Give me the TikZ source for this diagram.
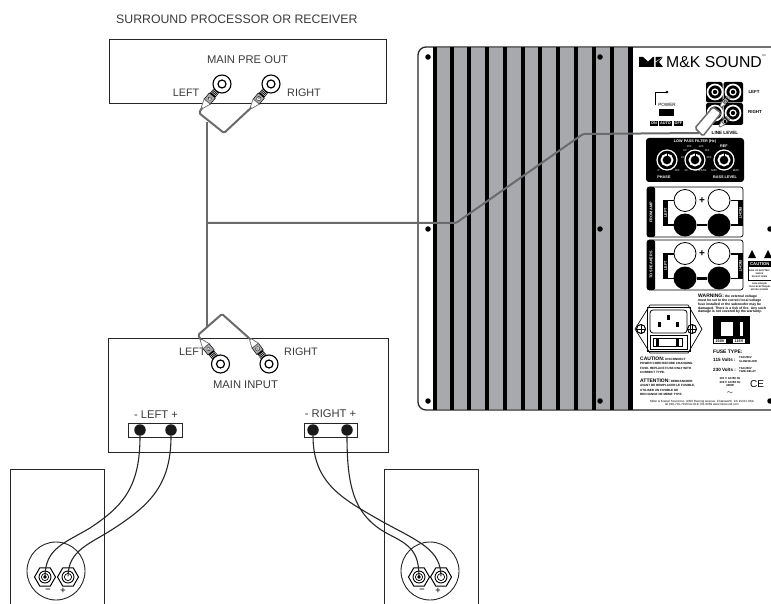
\documentclass[tikz,border=0pt]{standalone}
\usepackage{fontspec}
\setmainfont{Liberation Sans}
\usetikzlibrary{shapes.geometric}
\definecolor{labelgray}{HTML}{3A3A3C}
\definecolor{wiregray}{HTML}{6A6B6D}
\definecolor{fingray}{HTML}{A7A9AC}
\tikzset{
	box/.style={draw=black!85, line width=1pt, minimum width=#1, anchor=north west, inner sep=0, outer sep=0},
	lbl/.style={font=\fontsize{11.2}{12}\selectfont, text=labelgray, inner sep=0},
	tiny/.style={font=\fontsize{3.8}{4.2}\selectfont\bfseries, inner sep=0, align=left},
	inv/.style={tiny, text=white},
	signal/.style={draw=wiregray, line width=2pt, line join=round, rounded corners=1.5pt},
	spkwire/.style={draw=black!85, line width=1.1pt},
	jack/.style={circle, draw=black, line width=1.1pt, fill=white, minimum size=18pt, inner sep=0,
		path picture={\draw[line width=1.2pt] (path picture bounding box.center) circle (4);}},
	post/.style={circle, fill=black!90, minimum size=11.5pt, inner sep=0},
	nut/.style={regular polygon, regular polygon sides=6, draw=black, line width=1pt, minimum size=21pt, inner sep=0, fill=white},
	knob/.style={circle, draw=white, line width=1.2pt, fill=black, minimum size=20pt, inner sep=0,
		path picture={\draw[white, line width=1.9pt] (path picture bounding box.center) circle (5.5);
			\draw[black, line width=1pt] (path picture bounding box.center) ++(0,-3.5) -- ++(0,-3.5);}},
	panelhole/.style={circle, fill=black, minimum size=5.5pt, inner sep=0},
	plus/.style={circle, draw=black, line width=.8pt, fill=white, minimum size=22pt, inner sep=0},
	minus/.style={circle, fill=black, minimum size=23pt, inner sep=0},
	small/.style={tiny, font=\fontsize{3.05}{4.2}\selectfont\bfseries},
	head/.style={tiny, font=\fontsize{5}{5}\selectfont\bfseries}
}
\newcommand{\rcaplug}[5][1]{%
	\begin{scope}[shift={(#3)},rotate=#4,scale=#1]
		\fill[black] (9,-3.5) rectangle (15,3.5);
		\foreach \i in {10,11.5,13} \draw[white, line width=.4pt] (\i,-3.5) -- (\i,3.5);
		\filldraw[draw=black, fill=fingray, line width=.5pt] (15,-4) rectangle (23,4);
		\node[circle, draw=black, line width=.3pt, fill=white, inner sep=.3pt, font=\fontsize{3.5}{4}\selectfont, transform shape] at (19,0) {#5};
		\filldraw[draw=wiregray, fill=white, line width=.7pt] (23,-4) -- (31,-1) -- (31,1) -- (23,4) -- cycle;
		\coordinate (#2) at (31,0);
	\end{scope}}
\begin{document}
\begin{tikzpicture}[x=1pt, y=-1pt]
	\useasboundingbox (0,0) rectangle (771,604);
	\node[lbl, anchor=west, font=\fontsize{12.3}{13}\selectfont] (title) at (116,19) {SURROUND PROCESSOR OR RECEIVER};

	% processor
	\node[box=277pt, minimum height=64pt] (preout) at (109.5,39.5) {};
	\node[lbl] (prelabel) at (247.5,60) {MAIN PRE OUT};
	\node[lbl, font=\fontsize{10.8}{12}\selectfont] (preleft) at (186,93) {LEFT};
	\node[lbl, font=\fontsize{10.8}{12}\selectfont] (preright) at (304,93) {RIGHT};
	\node[jack] (jackA) at (222,84) {};
	\node[jack] (jackB) at (271,84) {};
	\rcaplug{tipA}{jackA.center}{230}{L}
	\rcaplug{tipB}{jackB.center}{230}{R}

	% subwoofer amp
	\node[box=280pt, minimum height=114pt] (amp) at (108.5,338.5) {};
	\node[lbl, anchor=west, font=\fontsize{10.8}{12}\selectfont] (ampleft) at (179,352) {LEFT};
	\node[lbl, font=\fontsize{10.8}{12}\selectfont] (ampright) at (301,352) {RIGHT};
	\node[lbl] (amplabel) at (245.5,385) {MAIN INPUT};
	\node[jack] (jackC) at (220.5,364) {};
	\node[jack] (jackD) at (269,364) {};
	\rcaplug{tipC}{jackC.center}{129}{L}
	\rcaplug{tipD}{jackD.center}{127}{R}
	\node[lbl] (minleft) at (156,415) {- LEFT +};
	\node[lbl] (minright) at (330.5,414) {- RIGHT +};
	\node[box=54pt, minimum height=14pt, fill=white] (blockL) at (128,423) {};
	\node[box=53pt, minimum height=14pt, fill=white] (blockR) at (304,423) {};
	\node[post] (postA) at (140,430) {};
	\node[post] (postB) at (171,430) {};
	\node[post] (postC) at (313,430) {};
	\node[post] (postD) at (347,430) {};

	% speakers
	\draw[black!85, line width=1pt] (10.5,604) |- (104,469) -- (104,604);
	\draw[black!85, line width=1pt] (384,604) |- (478,469) -- (478,604);
	\node[circle, draw=black!85, line width=.9pt, minimum size=58pt, inner sep=0] (coneL) at (56,571) {};
	\node[circle, draw=black!85, line width=.9pt, minimum size=58pt, inner sep=0] (coneR) at (430,571) {};
	\foreach \name/\x in {nutA/45,nutB/68,nutC/419,nutD/441} {
		\node[nut] (\name) at (\x,577) {};
		\draw[line width=.9pt] (\name.center) circle (6);
		\draw[line width=.7pt] (\name.center) circle (3.6);
	}
	\foreach \x in {48,422} \node[inner sep=0, font=\bfseries\small, text=labelgray] at (\x,591) {−};
	\foreach \x in {63,438} \node[inner sep=0, font=\bfseries\small, text=labelgray] at (\x,591) {+};
	\draw[spkwire] (postA) .. controls (140,485) and (125,505) .. (90,528) .. controls (65,543) and (45,548) .. (nutA.center);
	\draw[spkwire] (postB) .. controls (171,485) and (150,505) .. (113,529) .. controls (90,544) and (68,550) .. (nutB.center);
	\draw[spkwire] (postC) .. controls (313,485) and (345,500) .. (383,522) .. controls (420,542) and (441,550) .. (nutD.center);
	\draw[spkwire] (postD) .. controls (347,490) and (355,517) .. (390,535) .. controls (410,545) and (419,552) .. (nutC.center);
	\foreach \name in {nutB,nutD} \fill[white] (\name.center) circle (1.2);
	\fill (nutA.center) circle (1.8);
	\fill (nutC.center) circle (1.8);

	% rear panel
	\begin{scope}
		\clip (0,0) rectangle (771,604);
		\draw[black!85, line width=1.3pt, rounded corners=8pt] (800,410) -- (418,410) -- (418,47) -- (800,47);
		\fill[fingray] (433,47.6) rectangle (633,409.4);
		\foreach \x in {433,450,467,485,503,521,538,556,574,592,610} \fill (\x,47) rectangle ++(4.4,363);
		\fill (628,47) rectangle (633,410);
		\foreach \p in {(428,57),(600,57),(428,229),(600,229),(428,401),(600,401),(770,401),(770,229)} \node[panelhole] at \p {};
		% logo
		\fill (639,57) -- (643,57) -- (648,61.5) -- (653,57) -- (654,57) -- (654,67) -- (639,67) -- cycle;
		\fill (655.5,61.5) -- (655.5,57) -- (662.5,57) -- cycle;
		\fill (655.5,62.5) -- (662.5,57.5) -- (659,62) -- (663,67) -- (655.5,67) -- cycle;
		\node[inner sep=0, anchor=west, font=\fontsize{15.8}{16}\selectfont] (brand) at (666,62) {M\&K SOUND};
		\node[inner sep=0, font=\fontsize{2.5}{3}\selectfont] at (764,56) {TM};
		% line inputs
		\fill[black, rounded corners=2pt] (706,82) rectangle (722.5,102.5);
		\fill[black, rounded corners=2pt] (723.5,82) rectangle (743,102.5);
		\fill[black, rounded corners=2pt] (706,103) rectangle (722.5,125);
		\fill[black, rounded corners=2pt] (723.5,103) rectangle (743,125);
		\foreach \name/\x/\y in {inA/715/92,inB/733/92,inC/715/113,inD/733/113} {
			\node[circle, draw=white, line width=1.7pt, minimum size=15pt, inner sep=0] (\name) at (\x,\y) {};
			\draw[white, line width=1.2pt] (\name.center) circle (3);
		}
		\node[tiny, font=\fontsize{4.4}{4.4}\selectfont\bfseries] (lineleft) at (754,92) {LEFT};
		\node[tiny, font=\fontsize{4.4}{4.4}\selectfont\bfseries] (lineright) at (755,112) {RIGHT};
		% plug in the panel
		\filldraw[draw=wiregray, fill=white, line width=1.5pt, rounded corners=1.5pt] (695,128) -- (703,136) -- (721,113) -- (713,107) -- cycle;
		\coordinate (paneltip) at (699,133);
		\rcaplug[.62]{tipE}{inB.center}{230}{L}
		\rcaplug[.62]{tipF}{inD.center}{225}{R}
		\node[tiny] (linein) at (735,124.5) {IN};
		\node[tiny, font=\fontsize{4.6}{4.6}\selectfont\bfseries] (linelevel) at (725,133) {LINE LEVEL};
		\draw[black, line width=.5pt] (667,92) -- (655,92) -- (655,105);
		\fill (667,92) circle (1.3);
		\node[tiny, font=\fontsize{4.6}{4.6}\selectfont] (power) at (667,105) {POWER};
		\fill (659,109) rectangle (674,116);
		\node[fill=black, inv, minimum height=5pt, minimum width=8pt] (swon) at (654,123.5) {ON};
		\node[fill=black, inv, minimum height=5pt, minimum width=13pt] (swauto) at (665.5,123.5) {AUTO};
		\node[fill=black, inv, minimum height=5pt, minimum width=9pt] (swoff) at (678.5,123.5) {OFF};
		% filter
		\fill[black, rounded corners=3pt] (646,138) rectangle (744,182);
		\node[inv] (filter) at (695,141.5) {LOW PASS FILTER (Hz)};
		\node[knob] (phase) at (667,160) {};
		\node[knob] (lowpass) at (695,160) {};
		\node[knob] (bass) at (724,160) {};
		\node[inv] (phaselbl) at (664,177) {PHASE};
		\node[inv] (basslbl) at (725,177) {BASS LEVEL};
		\node[inv, font=\fontsize{2.8}{3}\selectfont] at (659,171) {0°};
		\node[inv, font=\fontsize{2.8}{3}\selectfont] at (677,171) {180};
		\node[inv] at (724,146) {REF};
		\node[inv, font=\fontsize{2.8}{3}\selectfont] at (714,171) {MIN};
		\node[inv, font=\fontsize{2.8}{3}\selectfont] at (736,171) {MAX};
		\node[inv, font=\fontsize{2.8}{3}\selectfont] at (686,171) {40};
		\node[inv, font=\fontsize{2.8}{3}\selectfont] at (701,171) {BYPASS};
		\node[inv, font=\fontsize{2.8}{3}\selectfont] at (683,158) {60};
		\node[inv, font=\fontsize{2.8}{3}\selectfont] at (685,151) {80};
		\node[inv, font=\fontsize{2.8}{3}\selectfont] at (689,146.5) {100};
		\node[inv, font=\fontsize{2.8}{3}\selectfont] at (701,146.5) {120};
		\node[inv, font=\fontsize{2.8}{3}\selectfont] at (707,151) {150};
		\node[inv, font=\fontsize{2.8}{3}\selectfont] at (709,158) {200};
		% amp and speaker terminals
		\foreach \y/\strip/\lab in {187/FROM AMP/amp, 240/TO SPEAKERS/spk} {
			\draw[black, line width=.7pt, rounded corners=2.5pt] (647,\y) rectangle (743,\y+50);
			\fill[black, rounded corners=1.5pt] (647,\y) rectangle (655,\y+50);
			\node[inv, rotate=90] (\lab strip) at (651,\y+25) {\strip};
			\fill (663,\y+13) rectangle (675,\y+14.5);
			\fill (663,\y+13) rectangle (668,\y+39);
			\fill (663,\y+37.5) rectangle (675,\y+39);
			\fill (731,\y+13) rectangle (743,\y+14.5);
			\fill (738,\y+13) rectangle (743,\y+39);
			\fill (731,\y+37.5) rectangle (743,\y+39);
			\node[inv, rotate=90] (\lab left) at (665.5,\y+26) {LEFT};
			\node[inv, rotate=-90] (\lab right) at (740.5,\y+26) {RIGHT};
			\node[plus] (\lab A) at (685,\y+13.5) {};
			\node[plus] (\lab B) at (719,\y+13.5) {};
			\node[minus] (\lab C) at (685,\y+38) {};
			\node[minus] (\lab D) at (719,\y+38) {};
			\node[inner sep=0, font=\bfseries] at (702,\y+13.5) {+};
			\fill (697,\y+37) rectangle (707,\y+39.5);
		}
		% warnings
		\fill (748,258) -- (752,250) -- (756,258) -- cycle;
		\fill (764,258) -- (768,250) -- (772,258) -- cycle;
		\fill (748,261) rectangle (771,267);
		\draw[black, line width=.4pt] (748,261) rectangle (775,280);
		\node[inv, anchor=west, font=\fontsize{4.2}{4.2}\selectfont\bfseries] (cautionbox) at (750,264) {CAUTION};
		\node[tiny, font=\fontsize{2.2}{3.2}\selectfont\bfseries, align=center] (shock) at (759.5,273.5) {RISK OF ELECTRIC\\SHOCK\\DO NOT OPEN};
		\node[tiny, font=\fontsize{2.2}{3}\selectfont\bfseries, align=center] (avis) at (759.5,286.5) {AVIS: RISQUE\\CHOC ELECTRIQUE\\NE PAS OUVRIR};
		\node[small, anchor=north west, font=\fontsize{3.4}{3.8}\selectfont\bfseries] (warning) at (698,294) {{\fontsize{5}{5}\selectfont WARNING:} the external voltage\\must be set to the correct local voltage\\fuse installed or the subwoofer may be\\damaged. There is a risk of fire. Any such\\damage is not covered by the warranty.};
		% mains
		\draw[black, line width=.7pt] (635,329) -- (650,305) -- (688,305) -- (702,329) -- (688,353) -- (650,353) -- cycle;
		\draw[black, line width=.8pt] (647,307) rectangle (690,351);
		\draw[black, line width=.8pt, rounded corners=3pt] (650,310) rectangle (687,333);
		\fill (666.5,315) rectangle (669.5,320);
		\fill (657.5,322) rectangle (660.5,327);
		\fill (675.5,322) rectangle (678.5,327);
		\draw[black, line width=.8pt] (650,335) rectangle (687,349);
		\draw[black, line width=.7pt] (653,338) rectangle (682,346);
		\fill (656,338) rectangle (659,346);
		\fill (676,338) rectangle (679,346);
		\foreach \name/\x in {screwA/641,screwB/692} {
			\node[circle, draw=black, line width=1pt, minimum size=9pt, inner sep=0] (\name) at (\x,329) {};
			\draw[line width=.8pt] (\name.north) -- (\name.south) (\name.west) -- (\name.east);
		}
		\fill (713,316) rectangle (750,344);
		\fill[white] (721,322) rectangle (743,336);
		\fill (733,322) rectangle (740,336);
		\node[fill=white, tiny, minimum width=12pt, minimum height=4.5pt] (v230) at (720,341) {230V};
		\node[fill=white, tiny, minimum width=12pt, minimum height=4.5pt] (v115) at (739,341) {115V};
		\node[head, anchor=west] (fuse) at (713,352) {FUSE TYPE:};
		\node[head, anchor=west, font=\fontsize{4.6}{4.6}\selectfont\bfseries] (v115fuse) at (713,359.5) {115 Volts :};
		\node[head, anchor=west, font=\fontsize{4.6}{4.6}\selectfont\bfseries] (v230fuse) at (713,370) {230 Volts :};
		\node[small, anchor=west, font=\fontsize{2.8}{3.2}\selectfont\bfseries] (slow) at (739,359.5) {T3A/250V\\SLOW-BLOW};
		\node[small, anchor=west, font=\fontsize{2.8}{3.2}\selectfont\bfseries] (time) at (739,370) {T3A/250V\\TIME-DELAY};
		\node[small, align=center, font=\fontsize{2.9}{3.6}\selectfont\bfseries] (rating) at (730,382) {115 V AC/60 Hz\\230 V AC/50 Hz\\400W};
		\node[inner sep=0, font=\fontsize{7}{7}\selectfont] (ac) at (730,393) {$\sim$};
		\node[inner sep=0, font=\fontsize{10}{10}\selectfont] (ce) at (757,384) {CE};
		\node[small, anchor=north west] (caution) at (640,357) {{\fontsize{5}{5}\selectfont CAUTION:} DISCONNECT\\POWER CORD BEFORE CHANGING\\FUSE. REPLACE FUSE ONLY WITH\\CORRECT TYPE.};
		\node[small, anchor=north west] (attention) at (640,379) {{\fontsize{5}{5}\selectfont ATTENTION:} DEBRANCHER\\AVANT DE REMPLACER LE FUSIBLE,\\UTILISER UN FUSIBLE DE\\RECHANGE DE MEME TYPE.};
		\node[small, align=center, font=\fontsize{3}{3.8}\selectfont] (footer) at (702,403) {Miller \& Kreisel Sound Inc. 9350 Deering Avenue, Chatsworth, CA 91311 USA\\tel 818-701-7010 fax 818-701-0369 www.mksound.com};
	\end{scope}

	% signal cables
	\coordinate (joinA) at (207,122);
	\coordinate (joinB) at (207,327);
	\coordinate (branch) at (207,223);
	\draw[signal] (tipA) -- (199,113) -- (224,133) -- (tipB);
	\draw[signal] (joinA) -- (joinB);
	\draw[signal] (tipC) -- (198,335) -- (222,314) -- (tipD);
	\draw[signal] (branch) -- (456,223) -- (583,134) -- (paneltip);
\end{tikzpicture}
\end{document}
